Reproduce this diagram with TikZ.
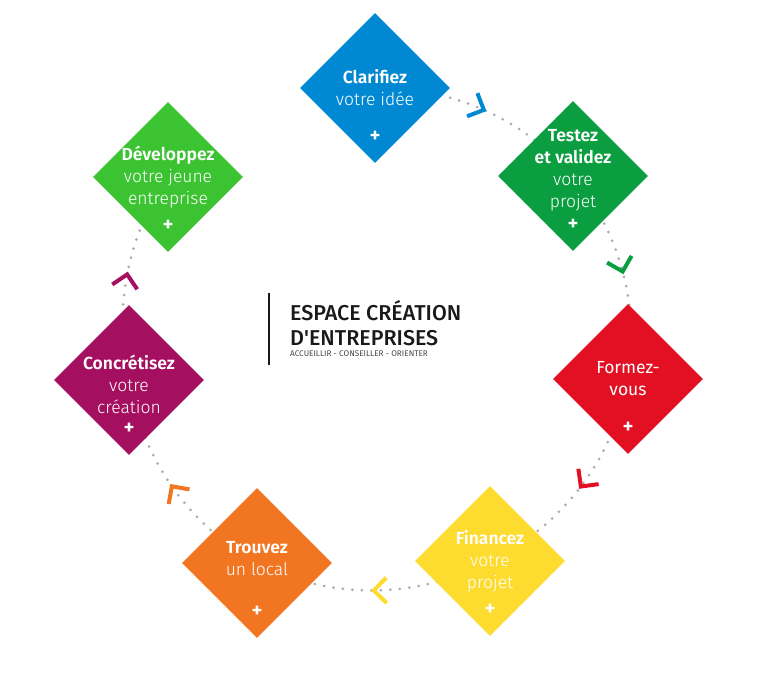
\documentclass[tikz,border=0pt]{standalone}
\usepackage{fontspec}
\setmainfont{Fira Sans}[UprightFont=* Light, BoldFont=* SemiBold]
\newfontface\regular{Fira Sans}
\newfontface\titlefont{Fira Sans Medium}
\usetikzlibrary{shapes.geometric, decorations.markings, backgrounds}
\definecolor{cblue}{RGB}{0,136,210}
\definecolor{cgreen}{RGB}{11,158,64}
\definecolor{cred}{RGB}{227,16,36}
\definecolor{cyellow}{RGB}{253,219,47}
\definecolor{corange}{RGB}{242,118,33}
\definecolor{cpurple}{RGB}{165,15,95}
\definecolor{clime}{RGB}{60,195,50}
\definecolor{ink}{RGB}{25,25,25}
\tikzset{x=1pt, y=1pt,
stage/.style={diamond, minimum size=150pt, inner sep=0pt, fill=#1,
  label={[plus]center:+}},
stagetext/.style={text=white, align=center, inner sep=0pt, font=\fontsize{17.5}{22}\selectfont},
plus/.style={text=white, inner sep=0pt, font=\bfseries\fontsize{21}{21}\selectfont, yshift=-49pt},
chev/.style={#1, solid, line width=4pt, line cap=butt, line join=miter},
flow/.style={gray!65, line width=3pt, line cap=round, dash pattern=on 0pt off 9.5pt,
  looseness=0.9,
  postaction={decorate, decoration={markings, mark=at position 0.5 with
    {\draw[chev=#1] (-12.7,12.7) -- (0,0) -- (-12.7,-12.7);}}}},
title/.style={anchor=base west, inner sep=0pt, text=ink,
  font=\titlefont\fontsize{21.5}{25}\selectfont},
}

\begin{document}
\begin{tikzpicture}
\useasboundingbox (-377,-334) rectangle (393,338);
    \node[stage=cblue, label={[stagetext]center:{\textbf{Clarifiez}\\votre idée}}] (clarifiez) at (-2,250) {};
    \node[stage=cgreen, label={[stagetext, yshift=6pt]center:{\textbf{Testez}\\\textbf{et validez}\\votre\\projet}}] (testez) at (196,162) {};
    \node[stage=cred, label={[stagetext]center:{\regular Formez-\\\regular vous}}] (formez) at (251,-41) {};
    \node[stage=cyellow, label={[stagetext]center:{\textbf{Financez}\\votre\\projet}}] (financez) at (113,-223) {};
    \node[stage=corange, label={[stagetext, yshift=4pt]center:{\textbf{Trouvez}\\un local}}] (trouvez) at (-120,-225) {};
    \node[stage=cpurple, label={[stagetext, yshift=-4pt]center:{\textbf{Concrétisez}\\votre\\création}}] (concretisez) at (-248,-42) {};
    \node[stage=clime, label={[stagetext]center:{\textbf{Développez}\\votre jeune\\entreprise}}] (developpez) at (-209,161) {};
    \begin{scope}[on background layer]
    \draw
        (clarifiez.center) edge[flow=cblue, bend left=25] (testez.center)
        (testez.center) edge[flow=cgreen, bend left=24.5] (formez.center)
        (formez.center) edge[flow=cred, bend left=27] (financez.center)
        (financez.center) edge[flow=cyellow, bend left=27.5] (trouvez.center)
        (trouvez.center) edge[flow=corange, bend left=26] (concretisez.center)
        (concretisez.center) edge[flow=cpurple, bend left=23.5] (developpez.center)
        ;
    \end{scope}
    \node[title] (espace) at (-87,18) {ESPACE CRÉATION};
    \node[title] (entreprises) at (-87,-7) {D'ENTREPRISES};
    \node[title, font=\regular\fontsize{8.2}{9}\selectfont, text=ink!80] (devise) at (-87,-18) {ACCUEILLIR - CONSEILLER - ORIENTER};
    \draw[ink, line width=1.4pt] (-108,45) -- (-108,-27);
\end{tikzpicture}
\end{document}
